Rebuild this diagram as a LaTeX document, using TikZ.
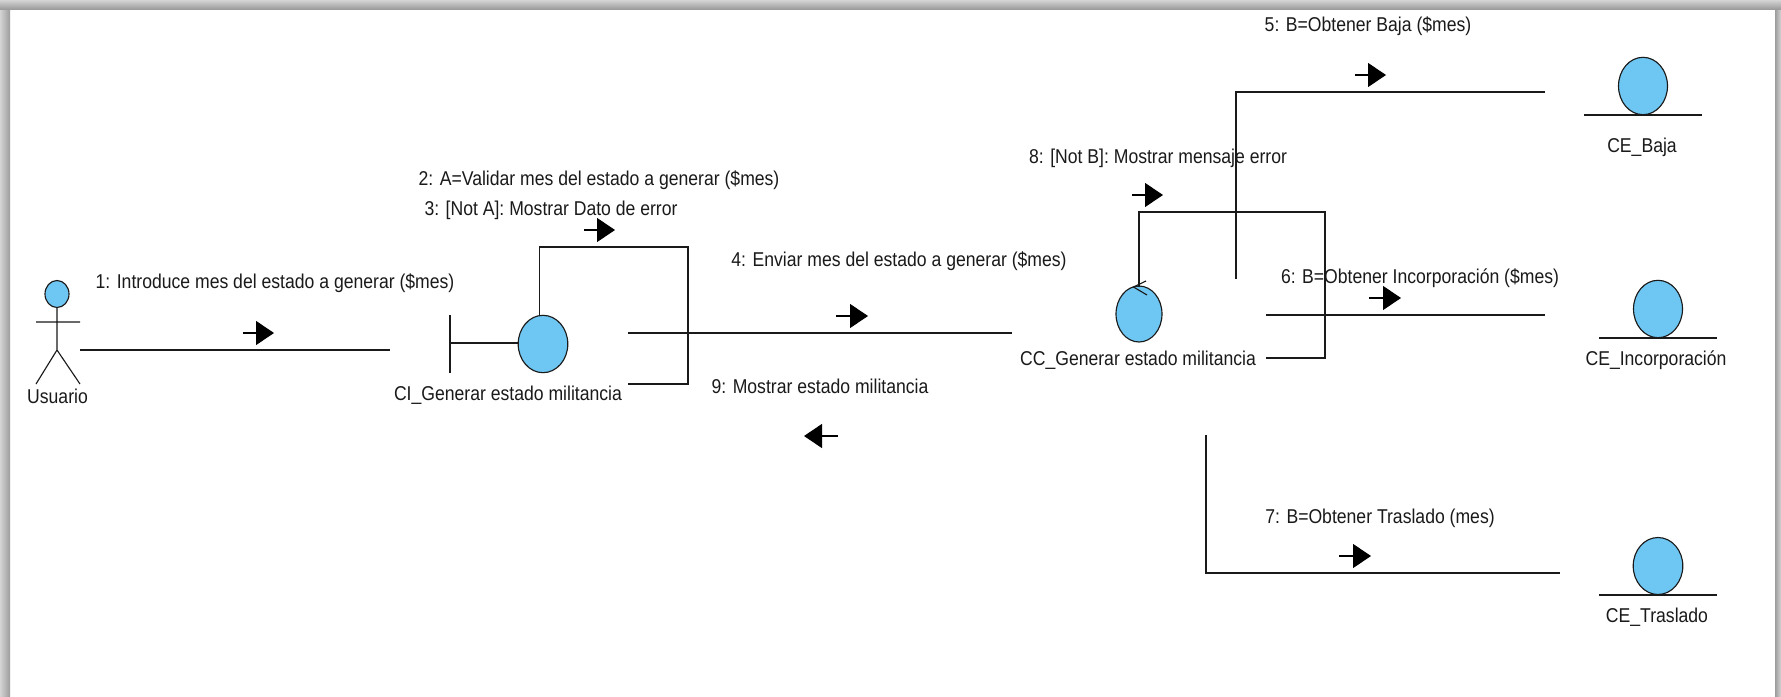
\documentclass[tikz,border=0pt]{standalone}
\usepackage{fontspec}
\setmainfont[FakeStretch=0.88]{Liberation Sans}
\usetikzlibrary{arrows.meta,calc}
\definecolor{ballfill}{HTML}{6EC6F2}
\definecolor{ink}{HTML}{1A1A1A}
\definecolor{edgeout}{HTML}{D4D4D4}
\definecolor{edgein}{HTML}{9C9C9C}
\tikzset{
  x=0.75pt,y=-0.75pt,
  line/.style={draw=ink,line width=0.85pt},
  ball/.style={line,fill=ballfill},
  lbl/.style={inner sep=0pt,yshift=-1.5pt,text=ink,font=\fontsize{15pt}{17pt}\selectfont},
  msg/.style={draw=black,line width=0.85pt,-{Triangle[length=13.5pt,width=18pt,fill=black]}},
}
\begin{document}
\begin{tikzpicture}
\useasboundingbox (0,0) rectangle (1781,696);
\fill[white] (0,0) rectangle (1781,696);
% window frame
\shade[left color=edgeout,right color=edgein] (0,0) rectangle (10,696);
\shade[left color=edgein,right color=edgeout] (1775,0) rectangle (1781,696);
\shade[top color=edgeout,bottom color=edgein] (0,0) rectangle (1781,9);
% actor
\path[ball] (57,294) ellipse [x radius=12,y radius=13.5];
\coordinate (neck) at (57,307.5);
\coordinate (hip) at (57,350);
\coordinate (armL) at (36,322);
\coordinate (armR) at (80,322);
\coordinate (legL) at (36,384);
\coordinate (legR) at (80,384);
\draw[line] (neck) -- (hip) (armL) -- (armR) (legL) -- (hip) -- (legR);
\node[lbl] (usuario) at (57.5,394.5) {Usuario};
% boundary CI
\coordinate (bt) at (450,315);
\coordinate (bb) at (450,373);
\coordinate (bm) at (450,343);
\coordinate (bc) at (519,343);
\draw[line] (bt) -- (bb) (bm) -- (bc);
\path[ball] (543,344) ellipse [x radius=24.8,y radius=28.7];
\node[lbl] (ci) at (508,393) {CI\_Generar estado militancia};
% control CC
\path[ball] (1139,314) ellipse [x radius=23,y radius=28];
\coordinate (c1) at (1146,281);
\coordinate (c2) at (1133.5,287);
\coordinate (c3) at (1147,295);
\draw[line] (c1) -- (c2) -- (c3);
\node[lbl] (cc) at (1138,358) {CC\_Generar estado militancia};
% entities
\path[ball] (1643,86) ellipse [x radius=24.5,y radius=28.7];
\coordinate (e1l) at (1584,115); \coordinate (e1r) at (1702,115);
\draw[line] (e1l) -- (e1r);
\node[lbl] (ebaja) at (1642,145) {CE\_Baja};
\path[ball] (1658,309) ellipse [x radius=24.5,y radius=28.7];
\coordinate (e2l) at (1599,338); \coordinate (e2r) at (1717,338);
\draw[line] (e2l) -- (e2r);
\node[lbl] (einc) at (1656,358) {CE\_Incorporación};
\path[ball] (1658,566) ellipse [x radius=24.8,y radius=28.5];
\coordinate (e3l) at (1599,595); \coordinate (e3r) at (1717,595);
\draw[line] (e3l) -- (e3r);
\node[lbl] (etras) at (1657,615) {CE\_Traslado};
% links
\coordinate (a1) at (80,350); \coordinate (a2) at (390,350);
\draw[line] (a1) -- (a2);
\coordinate (l1) at (539.5,315); \coordinate (l2) at (539.5,247); \coordinate (l3) at (688,247); \coordinate (l4) at (688,384); \coordinate (l5) at (628,384);
\draw[line] (l1) -- (l2) -- (l3) -- (l4) -- (l5);
\coordinate (b1) at (628,333); \coordinate (b2) at (1012,333);
\draw[line] (b1) -- (b2);
\coordinate (d1) at (1236,279); \coordinate (d2) at (1236,92); \coordinate (d3) at (1545,92);
\draw[line] (d1) -- (d2) -- (d3);
\coordinate (f1) at (1139,287); \coordinate (f2) at (1139,212); \coordinate (f3) at (1325,212); \coordinate (f4) at (1325,358); \coordinate (f5) at (1266,358);
\draw[line] (f1) -- (f2) -- (f3) -- (f4) -- (f5);
\coordinate (g1) at (1266,315); \coordinate (g2) at (1545,315);
\draw[line] (g1) -- (g2);
\coordinate (h1) at (1206,435); \coordinate (h2) at (1206,573); \coordinate (h3) at (1560,573);
\draw[line] (h1) -- (h2) -- (h3);
% message arrows
\coordinate (m1a) at (243,333); \coordinate (m1b) at (274,333); \draw[msg] (m1a) -- (m1b);
\coordinate (m2a) at (584,230); \coordinate (m2b) at (615,230); \draw[msg] (m2a) -- (m2b);
\coordinate (m4a) at (836,316); \coordinate (m4b) at (868,316); \draw[msg] (m4a) -- (m4b);
\coordinate (m9a) at (838,436); \coordinate (m9b) at (804,436); \draw[msg] (m9a) -- (m9b);
\coordinate (m5a) at (1355,75); \coordinate (m5b) at (1386,75); \draw[msg] (m5a) -- (m5b);
\coordinate (m8a) at (1132,195); \coordinate (m8b) at (1163,195); \draw[msg] (m8a) -- (m8b);
\coordinate (m6a) at (1369,298); \coordinate (m6b) at (1401,298); \draw[msg] (m6a) -- (m6b);
\coordinate (m7a) at (1339,556); \coordinate (m7b) at (1371,556); \draw[msg] (m7a) -- (m7b);
% labels
\node[lbl] (t1) at (275,281) {1: Introduce mes del estado a generar (\$mes)};
\node[lbl] (t2) at (599,178) {2: A=Validar mes del estado a generar (\$mes)};
\node[lbl] (t3) at (551,208) {3: [Not A]: Mostrar Dato de error};
\node[lbl] (t4) at (899,259) {4: Enviar mes del estado a generar (\$mes)};
\node[lbl] (t5) at (1368,24) {5: B=Obtener Baja (\$mes)};
\node[lbl] (t6) at (1420,276) {6: B=Obtener Incorporación (\$mes)};
\node[lbl] (t7) at (1380,516) {7: B=Obtener Traslado (mes)};
\node[lbl] (t8) at (1158,156) {8: [Not B]: Mostrar mensaje error};
\node[lbl] (t9) at (820,384) {9: Mostrar estado militancia};
\end{tikzpicture}
\end{document}
